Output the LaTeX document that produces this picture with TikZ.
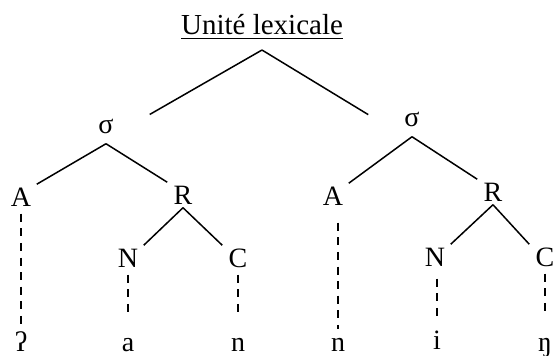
\documentclass[tikz,border=0pt]{standalone}
\usepackage{fontspec}
\setmainfont{Liberation Serif}
\begin{document}
\begin{tikzpicture}[x=0.5pt, y=-0.5pt, line width=0.75pt,
        cat/.style={font=\fontsize{14}{16}\selectfont, text height=9.2pt, text depth=0pt, inner xsep=0pt, inner ysep=1.4pt, minimum width=15pt},
        syl/.style={font=\fontsize{14}{16}\selectfont, text height=6.4pt, text depth=0pt, inner ysep=4.8pt, minimum width=43pt},
        seg/.style={font=\fontsize{14}{16}\selectfont, anchor=base, inner sep=0pt, text height=6pt, text depth=0pt},
        assoc/.style={dash pattern=on 4pt off 3.3pt, line width=0.65pt, shorten <=2pt, shorten >=11.5pt}]
    \useasboundingbox (0,0) rectangle (553,356);
    \node[anchor=base, font=\fontsize{14.5}{16}\selectfont, inner ysep=5pt] (lex) at (262,35) {\underline{Unité lexicale}};
    \node[syl] (sL) at (106,127) {σ};
    \node[syl] (sR) at (412,120) {σ};
    \node[cat] (AL) at (21,197) {A};
    \node[cat] (RL) at (183,195) {R};
    \node[cat] (AR) at (333,196) {A};
    \node[cat] (RR) at (493,192) {R};
    \node[cat] (NL) at (128,258) {N};
    \node[cat] (CL) at (238,258) {C};
    \node[cat] (NR) at (435,257) {N};
    \node[cat] (CR) at (545,257) {C};
    \node[seg] (glot) at (21,352) {ʔ};
    \node[seg] (a) at (128,352) {a};
    \node[seg] (n1) at (238,352) {n};
    \node[seg] (n2) at (338,352) {n};
    \node[seg] (i) at (437,350) {i};
    \node[seg] (eng) at (545,352) {ŋ};
    \draw (lex.south) -- (sL.16) (lex.south) -- (sR.173);
    \draw (sL.south) -- (AL.north east) (sL.south) -- (RL.north west);
    \draw (sR.south) -- (AR.north east) (sR.south) -- (RR.north west);
    \draw (RL.south) -- (NL.north east) (RL.south) -- (CL.north west);
    \draw (RR.south) -- (NR.north east) (RR.south) -- (CR.north west);
    \draw[assoc, shorten >=5pt] (AL.south) -- (glot.north);
    \draw[assoc, shorten >=11pt] (NL.south) -- (a.north);
    \draw[assoc, shorten >=11pt] (CL.south) -- (n1.north);
    \draw[assoc, shorten <=7pt, shorten >=5pt] (AR.south -| n2.north) -- (n2.north);
    \draw[assoc, shorten <=4.5pt, shorten >=8pt] (NR.south -| i.north) -- (i.north);
    \draw[assoc, shorten >=11pt] (CR.south) -- (eng.north);
\end{tikzpicture}
\end{document}
